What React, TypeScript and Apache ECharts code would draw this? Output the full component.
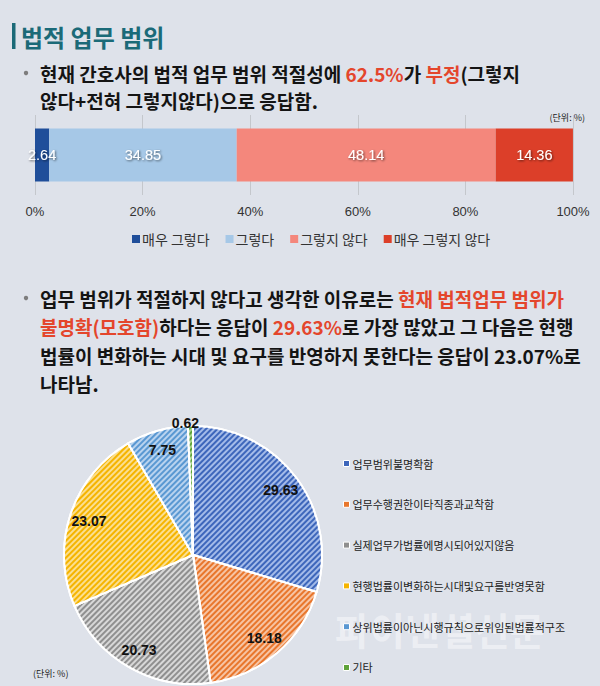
import React, { useEffect, useRef } from 'react';
import * as echarts from 'echarts';

const KR = '"Noto Sans CJK KR", "Noto Sans", sans-serif';
const NUM = '"Liberation Sans", Arial, sans-serif';

const barCategories = ['매우 그렇다', '그렇다', '그렇지 않다', '매우 그렇지 않다'];
const barValues = [2.64, 34.85, 48.14, 14.36];
const barColors = ['#1f4e9a', '#a6c8e7', '#f4877c', '#dc3f29'];
const xTickInterval = 20;

const pieNames = [
  '업무범위불명확함',
  '업무수행권한이타직종과교착함',
  '실제업무가법률에명시되어있지않음',
  '현행법률이변화하는시대및요구를반영못함',
  '상위법률이아닌시행규칙으로위임된법률적구조',
  '기타',
];
const pieValues = [29.63, 18.18, 20.73, 23.07, 7.75, 0.62];
const pieDark = ['#3d66bb', '#e8762c', '#8f8f8f', '#f5b400', '#5a98d2', '#5fa33a'];
const pieLight = ['#a4bbe9', '#f7c4a3', '#d8d8d8', '#fbdf91', '#b9d3ef', '#a9d48c'];

const para1 = [
  '현재 간호사의 법적 업무 범위 적절성에 {r|62.5%}가 {r|부정}(그렇지',
  '않다+전혀 그렇지않다)으로 응답함.',
];
const para2 = [
  '업무 범위가 적절하지 않다고 생각한 이유로는 {r|현재 법적업무 범위가}',
  '{r|불명확(모호함)}하다는 응답이 {r|29.63%}로 가장 많았고 그 다음은 현행',
  '법률이 변화하는 시대 및 요구를 반영하지 못한다는 응답이 23.07%로',
  '나타남.',
];

const FS = 19;

const textLine = (text: string, x: number, y: number) => ({
  type: 'text',
  x,
  y,
  style: {
    text,
    fill: '#141414',
    fontSize: FS,
    fontWeight: 'bold',
    fontFamily: KR,
    verticalAlign: 'middle',
    rich: {
      r: { fill: '#e4462c', fontSize: FS, fontWeight: 'bold', fontFamily: KR },
    },
  },
});

const bullet = (y: number) => ({
  type: 'circle',
  shape: { cx: 26, cy: y, r: 2.2 },
  style: { fill: '#7d7d7d' },
});

const decalOf = (c: string) => ({
  symbol: 'rect',
  symbolSize: 1,
  color: c,
  dashArrayX: [1, 0],
  dashArrayY: [2, 2],
  rotation: -Math.PI / 4,
});

export default function App() {
  const ref = useRef<HTMLDivElement>(null);
  useEffect(() => {
    const chart = echarts.init(ref.current!, null, { renderer: 'svg' });
    const lastIdx = pieNames.length - 1;
    const option: any = {
      animation: false,
      backgroundColor: '#dee2ea',
      grid: { left: 35, right: 27, top: 115, height: 80 },
      xAxis: {
        type: 'value',
        min: 0,
        max: 100,
        interval: xTickInterval,
        axisLine: { show: false },
        axisTick: { show: false },
        axisLabel: { formatter: '{value}%', color: '#333', fontSize: 13, margin: 10, fontFamily: NUM },
        splitLine: { lineStyle: { color: '#c4c7cc', width: 1 } },
      },
      yAxis: { type: 'category', data: ['응답'], show: false },
      legend: [
        {
          data: barCategories,
          top: 227,
          left: 127,
          itemWidth: 8,
          itemHeight: 8,
          itemGap: 16,
          icon: 'rect',
          textStyle: { fontSize: 14, color: '#333', fontFamily: KR, padding: [0, 0, 0, -3] },
        },
        {
          data: pieNames.map((n, i) => ({ name: n, itemStyle: { color: pieDark[i], borderColor: '#fff', borderWidth: 1, decal: 'none' } })),
          orient: 'vertical',
          left: 338,
          top: 453,
          itemWidth: 6,
          itemHeight: 6,
          itemGap: 29.8,
          icon: 'rect',
          textStyle: { fontSize: 11, color: '#222', fontFamily: KR, padding: [0, 0, 0, -2] },
        },
      ],
      series: [
        ...barCategories.map((name, i) => ({
          type: 'bar',
          name,
          stack: 'total',
          data: [barValues[i]],
          barWidth: 53,
          itemStyle: { color: barColors[i] },
          label: {
            show: true,
            position: 'inside',
            color: '#fff',
            fontSize: 14.5,
            fontFamily: NUM,
            textShadowColor: 'rgba(0,0,0,0.6)',
            textShadowBlur: 2,
            textShadowOffsetX: 1,
            textShadowOffsetY: 1,
          },
        })),
        {
          type: 'pie',
          name: 'reasons',
          center: [193, 555],
          radius: 129,
          startAngle: 90,
          clockwise: true,
          label: { show: false },
          labelLine: { show: false },
          emphasis: { disabled: true },
          itemStyle: { borderColor: '#fff', borderWidth: 2 },
          data: pieNames.map((name, i) => ({
            name,
            value: pieValues[i],
            itemStyle: { color: pieLight[i], decal: decalOf(pieDark[i]) },
          })),
        },
        {
          type: 'pie',
          name: 'labels',
          center: [193, 555],
          radius: [84, 129],
          startAngle: 90,
          clockwise: true,
          silent: true,
          emphasis: { disabled: true },
          itemStyle: { color: 'rgba(0,0,0,0)', borderWidth: 0 },
          labelLine: { show: false, length: 3, length2: 0 },
          labelLayout: (p: any) => (p.dataIndex === lastIdx ? { align: 'center' } : {}),
          label: {
            show: true,
            position: 'inside',
            formatter: (p: any) => p.value.toFixed(2),
            color: '#111',
            fontSize: 14,
            fontWeight: 'bold',
            fontFamily: NUM,
          },
          data: pieNames.map((name, i) => ({
            name,
            value: pieValues[i],
            label: i === lastIdx ? { position: 'outside' } : undefined,
          })),
        },
      ],
      graphic: [
        { type: 'rect', shape: { x: 12, y: 23, width: 3.5, height: 26 }, style: { fill: '#1b6a78' } },
        {
          type: 'text',
          x: 21,
          y: 36,
          style: { text: '법적 업무 범위', fill: '#1b6a78', fontSize: 24, fontWeight: 'bold', fontFamily: KR, verticalAlign: 'middle' },
        },
        bullet(73),
        ...para1.map((t, i) => textLine(t, 40, 73 + i * 27)),
        bullet(298),
        ...para2.map((t, i) => textLine(t, 40, 298 + i * 28.5)),
        {
          type: 'text',
          x: 585,
          y: 117,
          style: { text: '(단위: %)', fill: '#222', fontSize: 9, fontFamily: KR, align: 'right', verticalAlign: 'middle' },
        },
        {
          type: 'text',
          x: 33,
          y: 673,
          style: { text: '(단위: %)', fill: '#222', fontSize: 9, fontFamily: KR, verticalAlign: 'middle' },
        },
        {
          type: 'text',
          x: 335,
          y: 628,
          silent: true,
          style: { text: '파이낸셜신문', fill: 'rgba(255,255,255,0.45)', fontSize: 38, fontWeight: 'bold', fontFamily: KR, verticalAlign: 'middle' },
        },
      ],
    };
    chart.setOption(option);
    return () => chart.dispose();
  }, []);
  return (
    <div
      ref={ref}
      style={{ position: 'fixed', left: 0, top: 0, width: 600, height: 686, background: '#dee2ea' }}
    />
  );
}
